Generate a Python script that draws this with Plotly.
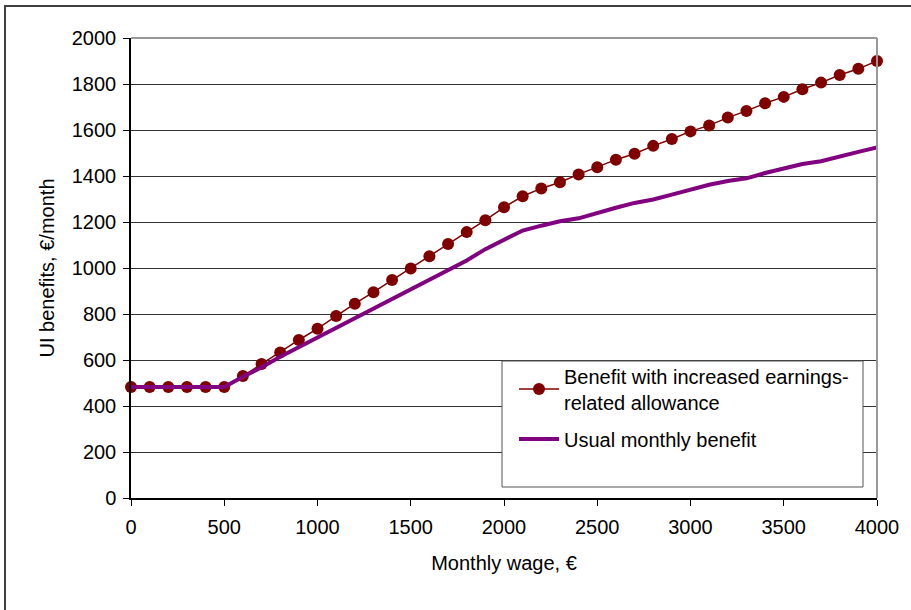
import plotly.graph_objects as go

wage = [0, 100, 200, 300, 400, 500, 600, 700, 800, 900, 1000, 1100, 1200, 1300, 1400,
        1500, 1600, 1700, 1800, 1900, 2000, 2100, 2200, 2300, 2400, 2500, 2600, 2700,
        2800, 2900, 3000, 3100, 3200, 3300, 3400, 3500, 3600, 3700, 3800, 3900, 4000]

increased_benefit = [483, 483, 483, 483, 483, 483, 530, 583, 633, 687, 736, 791, 845, 895,
                     948, 998, 1051, 1104, 1156, 1208, 1264, 1312, 1346, 1373, 1407, 1438,
                     1471, 1497, 1531, 1561, 1594, 1620, 1654, 1683, 1716, 1744, 1777, 1806,
                     1839, 1866, 1900]

usual_benefit = [483, 483, 483, 483, 483, 483, 527, 568, 614, 656, 697, 737, 779, 821, 862,
                 908, 949, 989, 1033, 1082, 1122, 1163, 1184, 1203, 1216, 1240, 1262, 1283,
                 1298, 1319, 1341, 1362, 1378, 1390, 1413, 1434, 1452, 1464, 1486, 1505, 1524]

name_increased = "Benefit with increased earnings-<br>related allowance"
name_usual = "Usual monthly benefit"
x_title = "Monthly wage, €"
y_title = "UI benefits, €/month"

FONT = "Liberation Sans, Arial, sans-serif"

fig = go.Figure()
fig.add_trace(go.Scatter(
    x=wage, y=increased_benefit, name=name_increased, mode="lines+markers",
    line=dict(color="#800000", width=1.5),
    marker=dict(color="#800000", size=12, symbol="circle"),
    cliponaxis=False, legend="legend",
))
fig.add_trace(go.Scatter(
    x=wage, y=usual_benefit, name=name_usual, mode="lines",
    line=dict(color="#800080", width=4),
    cliponaxis=False, legend="legend2",
))

# pixel -> paper helpers (plot area: x 131..877, y 38..498)
def px(xp):
    return (xp - 131) / 746.0

def py(yp):
    return (498 - yp) / 460.0

shapes = [
    # outer frame
    dict(type="rect", xref="paper", yref="paper", x0=px(5), x1=px(930), y0=py(630), y1=py(6),
         line=dict(color="#404040", width=2), fillcolor="rgba(0,0,0,0)", layer="above"),
    # plot area top and right border (gray)
    dict(type="line", xref="paper", yref="paper", x0=0, x1=1, y0=1, y1=1,
         line=dict(color="#999999", width=2), layer="above"),
    dict(type="line", xref="paper", yref="paper", x0=1, x1=1, y0=0, y1=1,
         line=dict(color="#999999", width=2), layer="above"),
    # legend box
    dict(type="rect", xref="paper", yref="paper", x0=px(502), x1=px(863), y0=py(487), y1=py(361),
         line=dict(color="#555555", width=1), fillcolor="white", layer="above"),
]

legend_common = dict(
    xanchor="left", yanchor="middle",
    bgcolor="rgba(0,0,0,0)", borderwidth=0,
    font=dict(family=FONT, size=20, color="black"),
    itemwidth=40,
)

fig.update_layout(
    width=911, height=610,
    margin=dict(l=131, r=34, t=38, b=112),
    paper_bgcolor="white", plot_bgcolor="white",
    font=dict(family=FONT, size=20, color="black"),
    showlegend=True,
    legend=dict(x=px(514), y=py(389), **legend_common),
    legend2=dict(x=px(514), y=py(439), **legend_common),
    shapes=shapes,
    xaxis=dict(
        range=[0, 4000], tickmode="linear", tick0=0, dtick=500,
        showgrid=False, zeroline=False,
        showline=True, linecolor="black", linewidth=1.5,
        ticks="outside", ticklen=6, tickcolor="black", tickwidth=1,
        ticklabelstandoff=4,
        tickfont=dict(family=FONT, size=20, color="black"),
        title=dict(text=x_title, font=dict(family=FONT, size=20, color="black"), standoff=19),
    ),
    yaxis=dict(
        range=[0, 2000], tickmode="linear", tick0=0, dtick=200,
        showgrid=True, gridcolor="#333333", gridwidth=1, zeroline=False,
        showline=True, linecolor="black", linewidth=1.5,
        ticks="outside", ticklen=6, tickcolor="black", tickwidth=1,
        ticklabelstandoff=3,
        tickfont=dict(family=FONT, size=20, color="black"),
        title=dict(text=y_title, font=dict(family=FONT, size=20, color="black"), standoff=12),
    ),
)

fig.write_html("out.html", config={"displayModeBar": False},
               post_script="document.body.style.margin='0';")
